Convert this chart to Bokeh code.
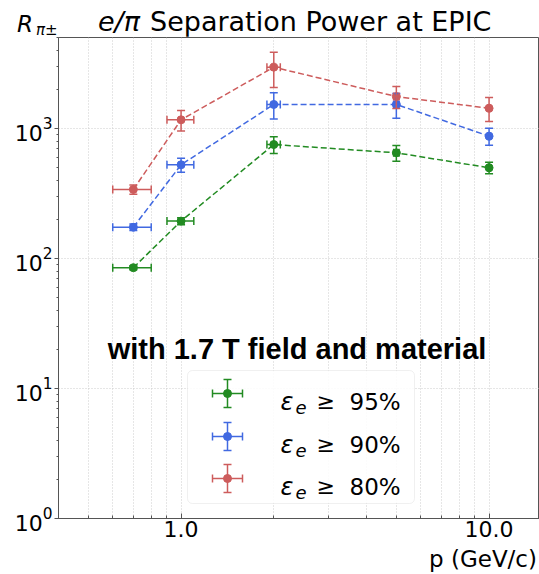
from bokeh.plotting import figure
from bokeh.layouts import column
from bokeh.models import (ColumnDataSource, Whisker, TeeHead, FixedTicker, Div,
                          PrintfTickFormatter, Range1d, LinearScale, Label, BoxAnnotation)
from bokeh.embed import file_html
from bokeh.resources import INLINE

# ---- data ----
p_gev = [0.7, 1.0, 2.0, 5.0, 10.0]
p_err = [0.1, 0.1, 0.1, 0.1, 0.1]
r_eff95 = [85, 194, 753, 650, 499]
e_eff95 = [3, 12, 110, 90, 50]
r_eff90 = [174, 526, 1531, 1531, 873]
e_eff90 = [10, 65, 350, 330, 130]
r_eff80 = [340, 1167, 2963, 1762, 1432]
e_eff80 = [28, 210, 900, 340, 300]
eff_labels = ["95%", "90%", "80%"]
x_major = [1, 10]
x_minor = [0.4, 0.5, 0.6, 0.7, 0.8, 0.9, 2, 3, 4, 5, 6, 7, 8, 9]
y_major = [1, 10, 100, 1000]
y_minor = [2, 3, 4, 5, 6, 7, 8, 9, 20, 30, 40, 50, 60, 70, 80, 90,
           200, 300, 400, 500, 600, 700, 800, 900, 2000, 3000, 4000, 5000]

colors = ["#228B22", "#4169E1", "#CD5C5C"]
FONT = "DejaVu Sans"
W = 539
FW, FH = 481, 481
HEAD_H, FOOT_H = 36, 26


def span(text, left, base, size, style="normal", right=None):
    top = base - 0.846 * size
    pos = f"left:{left}px;" if right is None else f"right:{right}px;"
    return (f'<span style="position:absolute;{pos}top:{top:.1f}px;font-size:{size}px;'
            f'line-height:1;font-style:{style};white-space:nowrap;">{text}</span>')


def strip(inner, h):
    html = (f'<div style="position:relative;width:{W}px;height:{h}px;overflow:visible;'
            f'font-family:\'{FONT}\';color:black;">{inner}</div>')
    return Div(text=html, width=W, height=h, margin=0, styles={"overflow": "visible"})


head = strip(span("R", 17, 32, 23, "italic") + span("π±", 36, 36, 15, "italic")
             + span("e/π", 98, 31, 27, "italic") + span("Separation Power at EPIC", 150, 31, 27),
             HEAD_H)
foot = strip(span("p (GeV/c)", 0, 19, 23, right=2), FOOT_H)

# ---- main plot ----
p = figure(width=W, height=FH + 31, x_axis_type="log", y_axis_type="log",
           x_range=Range1d(0.4, 14.58), y_range=Range1d(1, 5012),
           output_backend="svg", toolbar_location=None,
           min_border_left=58, min_border_right=0, min_border_top=1, min_border_bottom=30,
           extra_x_ranges={"lx": Range1d(0, FW)}, extra_y_ranges={"ly": Range1d(0, FH)},
           extra_x_scales={"lx": LinearScale()}, extra_y_scales={"ly": LinearScale()})
p.title.visible = False
p.background_fill_color = "white"
p.border_fill_color = "white"
p.outline_line_color = "#555555"
p.outline_line_width = 1

xt = FixedTicker(ticks=x_major, minor_ticks=x_minor)
yt = FixedTicker(ticks=y_major, minor_ticks=y_minor)
p.xaxis.ticker = xt
p.yaxis.ticker = yt
p.xgrid.ticker = xt
p.ygrid.ticker = yt
p.xaxis.formatter = PrintfTickFormatter(format="%.1f")

for ax in (p.xaxis, p.yaxis):
    ax.axis_line_color = "#555555"
    ax.major_tick_line_color = "#555555"
    ax.minor_tick_line_color = "#555555"
    ax.major_label_text_font = FONT
    ax.major_label_text_font_size = "22px"
    ax.major_label_text_color = "black"
p.xaxis.major_tick_in = 5
p.xaxis.major_tick_out = 0
p.xaxis.minor_tick_in = 3
p.xaxis.minor_tick_out = 0
p.xaxis.major_label_standoff = 2
p.yaxis.major_tick_in = 0
p.yaxis.major_tick_out = 4
p.yaxis.minor_tick_in = 0
p.yaxis.minor_tick_out = 2
p.yaxis.major_label_standoff = 2

p.xgrid.grid_line_color = "#cccccc"
p.xgrid.grid_line_dash = "1 2"
p.xgrid.minor_grid_line_color = "#cccccc"
p.xgrid.minor_grid_line_dash = "1 2"
p.ygrid.grid_line_color = "#cccccc"
p.ygrid.grid_line_dash = "1 2"

series = [(r_eff95, e_eff95), (r_eff90, e_eff90), (r_eff80, e_eff80)]
for (vals, errs), c in zip(series, colors):
    src = ColumnDataSource(dict(
        x=p_gev, y=vals,
        yl=[v - e for v, e in zip(vals, errs)], yu=[v + e for v, e in zip(vals, errs)],
        xl=[x - e for x, e in zip(p_gev, p_err)], xu=[x + e for x, e in zip(p_gev, p_err)]))
    p.line("x", "y", source=src, line_color=c, line_width=1.5, line_dash="6 3")
    for dim, base, lo, up in (("height", "x", "yl", "yu"), ("width", "y", "xl", "xu")):
        w = Whisker(source=src, base=base, lower=lo, upper=up, dimension=dim,
                    line_color=c, line_width=1.5, level="glyph",
                    upper_head=TeeHead(size=8, line_color=c, line_width=1.5),
                    lower_head=TeeHead(size=8, line_color=c, line_width=1.5))
        p.add_layout(w)
    p.scatter("x", "y", source=src, size=8, color=c)


def lab(x, y, text, size, style="normal", font=FONT, align="left", level="annotation"):
    p.add_layout(Label(x=x, y=y, text=text, text_font=font, text_font_size=size,
                       text_font_style=style, text_align=align, text_baseline="alphabetic",
                       text_color="black", level=level, x_range_name="lx", y_range_name="ly"))


# in-frame annotation text (positions in frame pixels)
lab(238.5, 170, "with 1.7 T field and material", "29px", "bold", font="Liberation Sans", align="center")

# ---- legend ----
box = BoxAnnotation(left=129, right=356, bottom=15, top=148, x_range_name="lx", y_range_name="ly",
                    fill_color="white", fill_alpha=0.85, line_color="#cccccc", line_width=1,
                    border_radius=5, level="annotation")
p.add_layout(box)
rows = [125, 82, 40]
cx = 169
for ry, c, lbl in zip(rows, colors, eff_labels):
    p.segment(x0=[cx - 15, cx, cx - 15, cx + 15, cx - 4, cx - 4],
              y0=[ry, ry - 14, ry - 4, ry - 4, ry - 14, ry + 14],
              x1=[cx + 15, cx, cx - 15, cx + 15, cx + 4, cx + 4],
              y1=[ry, ry + 14, ry + 4, ry + 4, ry - 14, ry + 14],
              line_color=c, line_width=1.5, x_range_name="lx", y_range_name="ly", level="overlay")
    p.scatter([cx], [ry], size=8, color=c, x_range_name="lx", y_range_name="ly", level="overlay")
    lab(222, ry - 8, "ε", "24px", "italic", level="overlay")
    lab(237, ry - 14, "e", "18px", "italic", level="overlay")
    lab(258, ry - 8, "≥", "22px", level="overlay")
    lab(291, ry - 8, lbl, "23px", level="overlay")

layout = column(head, p, foot, spacing=0)
open("out.html", "w").write(file_html(layout, INLINE))
